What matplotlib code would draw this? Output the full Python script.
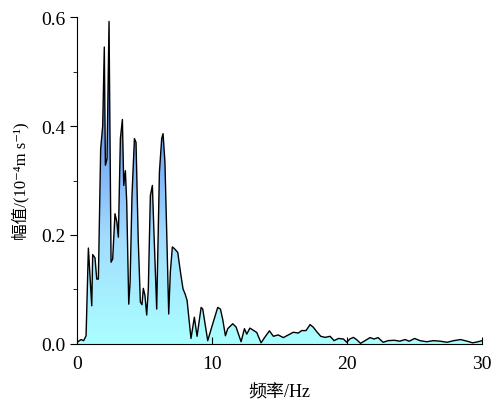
import numpy as np
import matplotlib
matplotlib.use("Agg")
import matplotlib.pyplot as plt
from matplotlib.colors import LinearSegmentedColormap

plt.rcParams['font.family'] = ['Liberation Serif', 'DejaVu Serif', 'Noto Sans CJK SC']

# 频率 (Hz) 与 幅值 (10^-4 m s^-1)
freq = [0.0, 0.3, 0.49, 0.67, 0.84, 1.09, 1.16, 1.33, 1.46, 1.58, 1.75, 1.9, 2.02, 2.1,
        2.22, 2.37, 2.52, 2.64, 2.81, 2.95, 3.06, 3.21, 3.36, 3.46, 3.58, 3.68, 3.83,
        3.93, 4.07, 4.25, 4.37, 4.53, 4.69, 4.81, 4.91, 5.03, 5.16, 5.28, 5.43, 5.58,
        5.68, 5.9, 6.1, 6.27, 6.37, 6.51, 6.66, 6.79, 6.91, 7.06, 7.21, 7.46, 7.66,
        7.85, 8.0, 8.15, 8.44, 8.69, 8.89, 9.19, 9.31, 9.68, 10.05, 10.42, 10.62,
        10.79, 10.99, 11.16, 11.53, 11.78, 12.15, 12.4, 12.57, 12.8, 13.0, 13.31,
        13.63, 13.9, 14.25, 14.54, 14.9, 15.28, 15.65, 16.02, 16.39, 16.64, 16.96,
        17.26, 17.5, 17.75, 18.05, 18.37, 18.74, 19.04, 19.36, 19.73, 19.98, 20.2,
        20.47, 20.7, 21.0, 21.33, 21.7, 22.0, 22.3, 22.67, 23.04, 23.5, 23.9, 24.3,
        24.6, 25.0, 25.4, 25.9, 26.4, 26.9, 27.4, 27.9, 28.4, 28.9, 29.3, 29.7, 30.0]
amp = [0.003, 0.008, 0.006, 0.015, 0.176, 0.07, 0.164, 0.158, 0.119, 0.119, 0.358,
       0.40, 0.545, 0.328, 0.34, 0.592, 0.15, 0.156, 0.239, 0.224, 0.196, 0.377,
       0.412, 0.291, 0.318, 0.26, 0.073, 0.113, 0.272, 0.377, 0.37, 0.193, 0.077,
       0.072, 0.102, 0.089, 0.053, 0.101, 0.272, 0.291, 0.217, 0.064, 0.315, 0.377,
       0.386, 0.334, 0.187, 0.055, 0.132, 0.178, 0.175, 0.168, 0.132, 0.101, 0.092,
       0.08, 0.01, 0.049, 0.014, 0.067, 0.064, 0.006, 0.037, 0.067, 0.064, 0.045,
       0.015, 0.028, 0.037, 0.031, 0.004, 0.028, 0.018, 0.029, 0.026, 0.021, 0.002,
       0.012, 0.024, 0.014, 0.0165, 0.0116, 0.0165, 0.0214, 0.02, 0.0245, 0.0245,
       0.0355, 0.0306, 0.0226, 0.014, 0.012, 0.014, 0.006, 0.010, 0.009, 0.003,
       0.009, 0.012, 0.008, 0.001, 0.006, 0.0116, 0.009, 0.0116, 0.003, 0.006,
       0.0067, 0.005, 0.008, 0.005, 0.010, 0.006, 0.004, 0.006, 0.005, 0.003, 0.006,
       0.008, 0.005, 0.002, 0.004, 0.006]

fig = plt.figure(figsize=(4.97, 4.02), dpi=100)
ax = fig.add_axes([0.155, 0.142, 0.815, 0.813])

# 渐变填充 (青色 -> 蓝色)
cmap = LinearSegmentedColormap.from_list(
    'grad', [(0.0, '#aaffff'), (0.33, '#a2dcff'), (0.66, '#6d9cf3'), (1.0, '#3353bd')])
poly = ax.fill_between(freq, amp, 0, color='none', lw=0)
grad = np.linspace(0, 1, 256).reshape(-1, 1)
im = ax.imshow(grad, cmap=cmap, origin='lower', aspect='auto',
               extent=[0, 30, 0, 0.6], zorder=1)
im.set_clip_path(poly.get_paths()[0], transform=ax.transData)
ax.plot(freq, amp, color='black', lw=1.0, zorder=3)

ax.set_xlim(0, 30)
ax.set_ylim(0, 0.6)
ax.set_xticks([0, 10, 20, 30])
ax.set_yticks([0.0, 0.2, 0.4, 0.6])
ax.set_yticks([0.1, 0.3, 0.5], minor=True)
ax.set_yticklabels(['0.0', '0.2', '0.4', '0.6'])
ax.tick_params(axis='x', direction='in', length=5, labelsize=14, pad=8)
ax.tick_params(axis='y', which='major', direction='out', length=5, labelsize=14)
ax.tick_params(axis='y', which='minor', direction='out', length=3)
ax.spines['top'].set_visible(False)
ax.spines['right'].set_visible(False)
ax.set_xlabel('频率/Hz', fontsize=13, labelpad=8)
ax.set_ylabel('幅值/(10⁻⁴m s⁻¹)', fontsize=12, labelpad=8)

fig.savefig('out.png', dpi=100)
